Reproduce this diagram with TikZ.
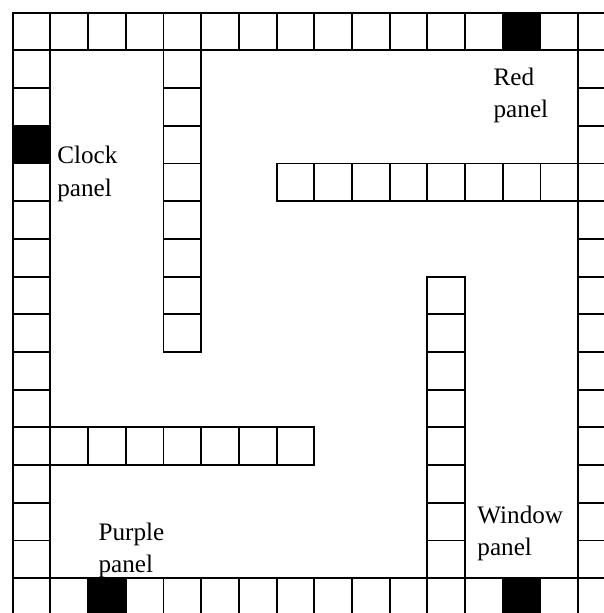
\documentclass[tikz,border=0pt]{standalone}
\usepackage{fontspec}
\setmainfont{Liberation Serif}
\usetikzlibrary{positioning}

\begin{document}
\begin{tikzpicture}[
  cell/.style={draw, line width=1.4pt, minimum size=1cm, inner sep=0pt, outer sep=0pt},
  dark/.style={cell, fill=black},
  panel/.style={align=left, inner sep=0pt, font=\fontsize{19}{24.5}\selectfont}]

  \useasboundingbox (-0.337,0.337) rectangle (15.658,-15.923);

  % outer track
  \foreach \c in {0,...,12,14,15}
    \node[cell] (c-\c-0) at (\c+0.5,-0.5) {};
  \foreach \c in {0,1,3,4,...,12,14,15}
    \node[cell] (c-\c-15) at (\c+0.5,-15.5) {};
  \foreach \r in {1,2,4,5,...,14}
    \node[cell] (c-0-\r) at (0.5,-\r-0.5) {};
  \foreach \r in {1,...,14}
    \node[cell] (c-15-\r) at (15.5,-\r-0.5) {};

  % arms
  \foreach \r in {1,...,8}
    \node[cell] (c-4-\r) at (4.5,-\r-0.5) {};
  \foreach \c in {7,...,14}
    \node[cell] (c-\c-4) at (\c+0.5,-4.5) {};
  \foreach \r in {7,...,14}
    \node[cell] (c-11-\r) at (11.5,-\r-0.5) {};
  \foreach \c in {1,...,7}
    \node[cell] (c-\c-11) at (\c+0.5,-11.5) {};

  % panels
  \node[dark] (c-0-3) at (0.5,-3.5) {};
  \node[dark] (c-13-0) at (13.5,-0.5) {};
  \node[dark] (c-2-15) at (2.5,-15.5) {};
  \node[dark] (c-13-15) at (13.5,-15.5) {};

  \node[panel, anchor=base west] (clock) at (1.175,-4.87) {Clock\\panel};
  \node[panel, anchor=base west] (red) at (12.75,-2.79) {Red\\panel};
  \node[panel, anchor=base west] (purple) at (2.27,-14.85) {Purple\\panel};
  \node[panel, anchor=base west] (window) at (12.32,-14.41) {Window\\panel};

\end{tikzpicture}
\end{document}
